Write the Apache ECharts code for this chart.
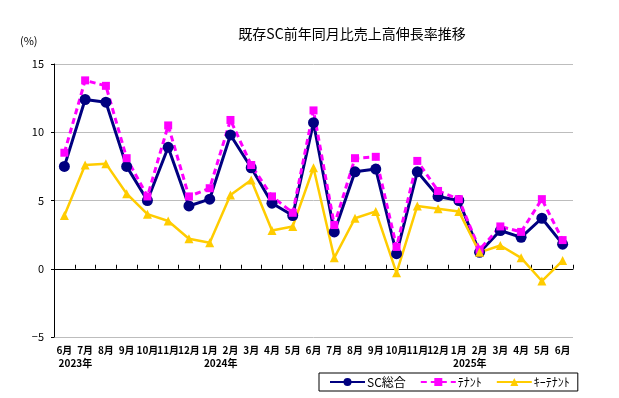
<!DOCTYPE html>
<html>
<head>
<meta charset="utf-8">
<script src="https://cdn.jsdelivr.net/npm/echarts@6/dist/echarts.min.js"></script>
<style>html,body{margin:0;padding:0;background:#fff}#c{width:619px;height:398px}</style>
</head>
<body>
<div id="c"></div>
<script>
const months = ['6月','7月','8月','9月','10月','11月','12月','1月','2月','3月','4月','5月','6月','7月','8月','9月','10月','11月','12月','1月','2月','3月','4月','5月','6月'];
const years = ['2023年','','','','','','','2024年','','','','','','','','','','','','2025年','','','','',''];
const scTotal = [7.5,12.4,12.2,7.5,5.0,8.9,4.6,5.1,9.8,7.4,4.8,3.9,10.7,2.7,7.1,7.3,1.1,7.1,5.3,5.0,1.2,2.8,2.3,3.7,1.8];
const tenant = [8.5,13.8,13.4,8.1,5.3,10.5,5.3,5.9,10.9,7.6,5.3,4.1,11.6,3.2,8.1,8.2,1.6,7.9,5.7,5.1,1.4,3.1,2.7,5.1,2.1];
const keyTenant = [3.9,7.6,7.7,5.5,4.0,3.5,2.2,1.9,5.4,6.5,2.8,3.1,7.4,0.8,3.7,4.2,-0.3,4.6,4.4,4.2,1.2,1.7,0.8,-0.9,0.6];
const yTicks = {min:-5, max:15, interval:5};

const FONT = '"Noto Sans CJK JP", "Noto Sans", sans-serif';
const chart = echarts.init(document.getElementById('c'), null, {renderer:'canvas'});
chart.setOption({
  animation:false,
  textStyle:{fontFamily:FONT},
  title:{text:'既存SC前年同月比売上高伸長率推移', left:347, textAlign:'center', top:22,
    textStyle:{fontFamily:FONT, fontSize:14, fontWeight:'normal', color:'#000'}},
  graphic:[{type:'text', left:20, top:35, style:{text:'(%)', font:'11px '+FONT, fill:'#000'}}],
  legend:{
    left:319, top:373, width:263, height:18,
    borderColor:'#000', borderWidth:1, padding:[3,8,3,10],
    itemWidth:35, itemHeight:10, itemGap:14,
    textStyle:{fontFamily:FONT, fontSize:12, color:'#000', padding:[0,0,0,-3]},
    data:['SC総合','ﾃﾅﾝﾄ','ｷｰﾃﾅﾝﾄ']
  },
  grid:{left:54, top:64, width:519, height:273, containLabel:false},
  xAxis:[
    {type:'category', data:months, boundaryGap:true,
      axisLine:{onZero:true, lineStyle:{color:'#000', width:1}},
      axisTick:{show:true, inside:true, length:4, interval:0, lineStyle:{color:'#000'}},
      axisLabel:{show:false}, splitLine:{show:false}},
    {type:'category', data:months, boundaryGap:true, position:'bottom',
      axisLine:{show:false, onZero:false}, axisTick:{show:false},
      axisLabel:{interval:0, margin:8, fontSize:10, fontWeight:'bold', color:'#000', fontFamily:FONT}},
    {type:'category', data:years, boundaryGap:true, position:'bottom', offset:13,
      axisLine:{show:false, onZero:false}, axisTick:{show:false},
      axisLabel:{interval:0, margin:8, fontSize:10, fontWeight:'bold', color:'#000', fontFamily:FONT,
        padding:[0,0,0,22]}}
  ],
  yAxis:{type:'value', min:yTicks.min, max:yTicks.max, interval:yTicks.interval,
    axisLine:{show:true, onZero:false, lineStyle:{color:'#000', width:1}},
    axisTick:{show:true, length:3, lineStyle:{color:'#000'}},
    axisLabel:{fontSize:11, color:'#000', margin:10, fontFamily:FONT,
      formatter:function(v){return v<0 ? '−'+Math.abs(v) : String(v);}},
    splitLine:{show:true, lineStyle:{color:'#BDBDBD', width:1}}
  },
  series:[
    {name:'SC総合', type:'line', data:scTotal, xAxisIndex:0,
      symbol:'circle', symbolSize:11, color:'#000080',
      lineStyle:{color:'#000080', width:3}, itemStyle:{color:'#000080'}},
    {name:'ﾃﾅﾝﾄ', type:'line', data:tenant, xAxisIndex:0,
      symbol:'rect', symbolSize:8, color:'#FF00FF',
      lineStyle:{color:'#FF00FF', width:3, type:[6,4]}, itemStyle:{color:'#FF00FF'}},
    {name:'ｷｰﾃﾅﾝﾄ', type:'line', data:keyTenant, xAxisIndex:0,
      symbol:'triangle', symbolSize:9, color:'#FFCC00',
      lineStyle:{color:'#FFCC00', width:2.5}, itemStyle:{color:'#FFCC00'}}
  ]
});
</script>
</body>
</html>
